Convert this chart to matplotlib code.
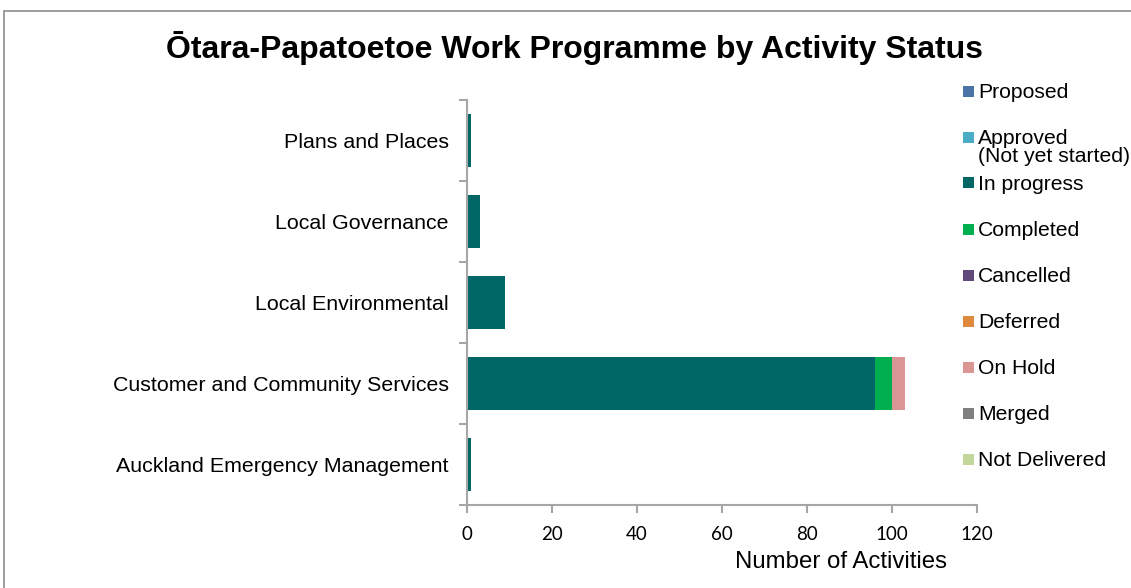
import matplotlib
matplotlib.use("Agg")
import matplotlib.pyplot as plt
from matplotlib.patches import Rectangle
import numpy as np

categories = ["Auckland Emergency Management", "Customer and Community Services",
              "Local Environmental", "Local Governance", "Plans and Places"]
series_names = ["Proposed", "Approved\n(Not yet started)", "In progress", "Completed",
                "Cancelled", "Deferred", "On Hold", "Merged", "Not Delivered"]
proposed = [0, 0, 0, 0, 0]
approved = [0, 0, 0, 0, 0]
in_progress = [1, 96, 9, 3, 1]
completed = [0, 4, 0, 0, 0]
cancelled = [0, 0, 0, 0, 0]
deferred = [0, 0, 0, 0, 0]
on_hold = [0, 3, 0, 0, 0]
merged = [0, 0, 0, 0, 0]
not_delivered = [0, 0, 0, 0, 0]
x_ticks = [0, 20, 40, 60, 80, 100, 120]

colors = ["#4A73A8", "#4BACC6", "#006766", "#00B050", "#604A7B",
          "#E0883C", "#D99694", "#7F7F7F", "#C3D69B"]
series = [proposed, approved, in_progress, completed, cancelled,
          deferred, on_hold, merged, not_delivered]

plt.rcParams['font.family'] = ['Liberation Sans', 'DejaVu Sans']

W, H = 1131, 588
fig = plt.figure(figsize=(W / 100, H / 100), dpi=100)
ax = fig.add_axes([467 / W, 1 - 505 / H, (977 - 467) / W, (505 - 100) / H])

y = np.arange(len(categories))
left = np.zeros(len(categories))
for vals, c in zip(series, colors):
    v = np.array(vals, dtype=float)
    ax.barh(y, v, left=left, height=0.66, color=c, edgecolor='none')
    left += v

ax.set_xlim(0, 120)
ax.set_ylim(-0.5, len(categories) - 0.5)
ax.set_xticks(x_ticks)
ax.set_xticklabels([str(t) for t in x_ticks], fontsize=13.5, family=['Lato', 'DejaVu Sans'])
ax.set_yticks(np.arange(-0.5, len(categories), 1.0))
ax.set_yticklabels([])
ax.set_yticks(y, minor=True)
ax.set_yticklabels(categories, minor=True, fontsize=15.4)
ax.tick_params(axis='y', which='minor', length=0, pad=13)
ax.tick_params(axis='y', which='major', length=6, width=1.5, color='#A6A6A6', direction='out')
ax.tick_params(axis='x', which='major', length=6, width=1.5, color='#A6A6A6', direction='out', pad=9)

for s in ['top', 'right']:
    ax.spines[s].set_visible(False)
for s in ['left', 'bottom']:
    ax.spines[s].set_color('#A6A6A6')
    ax.spines[s].set_linewidth(1.5)

fig.text(575 / W, 1 - 48 / H, "Ōtara-Papatoetoe Work Programme by Activity Status",
         ha='center', va='center', fontsize=23, fontweight='bold')
fig.text(841 / W, 1 - 562 / H, "Number of Activities", ha='center', va='center', fontsize=17.3)

# legend
for i, (name, c) in enumerate(zip(series_names, colors)):
    yc = 91 + 46 * i
    fig.patches.append(Rectangle((963 / W, 1 - (yc + 5.5) / H), 11 / W, 11 / H,
                                 transform=fig.transFigure, facecolor=c, edgecolor='none'))
    fig.text(978 / W, 1 - (yc - 8) / H, name, ha='left', va='top', fontsize=15.2,
             linespacing=0.95)

# outer frame
fig.patches.append(Rectangle((3.5 / W, -0.1), 1.2, (1 - 10.5 / H) + 0.1,
                             transform=fig.transFigure, facecolor='none',
                             edgecolor='#8C8C8C', linewidth=1.2, clip_on=False))

fig.savefig("out.png", dpi=100)
